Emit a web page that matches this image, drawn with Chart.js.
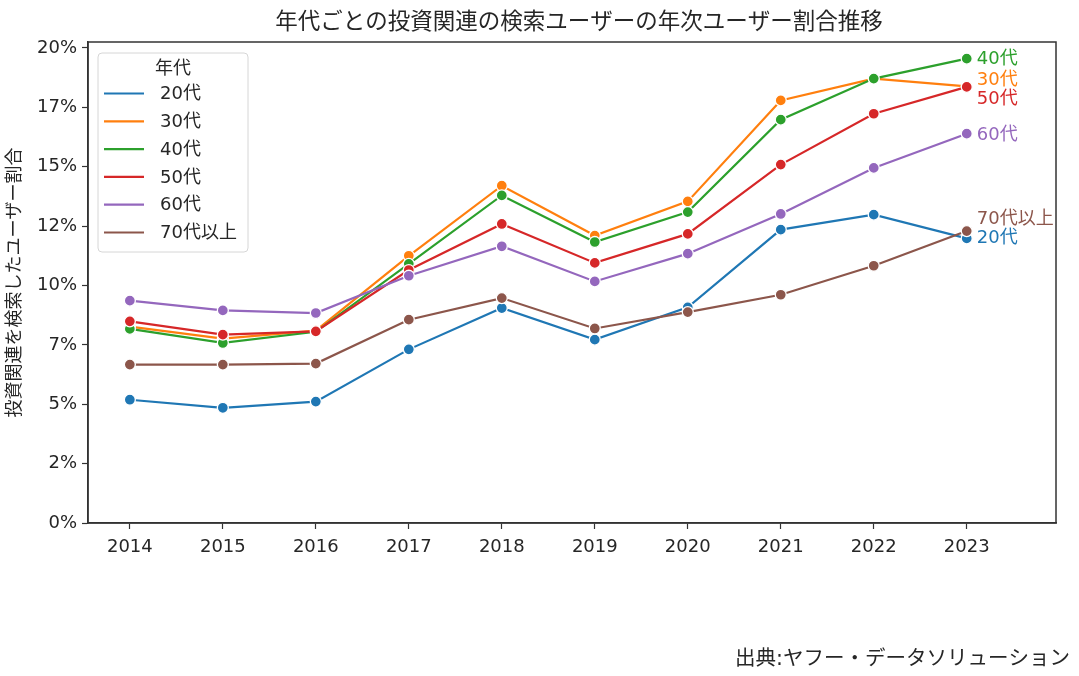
<!DOCTYPE html>
<html lang="ja">
<head>
    <meta charset="UTF-8">
    <title>年代ごとの投資関連の検索ユーザーの年次ユーザー割合推移</title>
    <script src="https://cdn.jsdelivr.net/npm/chart.js"></script>
    <style>
        html, body {
            margin: 0;
            padding: 0;
            background-color: #fff;
        }
        #wrap {
            position: relative;
            width: 1079px;
            height: 676px;
        }
    </style>
</head>
<body>
    <div id="wrap">
        <canvas id="ageChart" width="1079" height="676"></canvas>
    </div>

    <script>
        // data (values in %)
        const years = [2014, 2015, 2016, 2017, 2018, 2019, 2020, 2021, 2022, 2023];
        const ageGroups = ['20代', '30代', '40代', '50代', '60代', '70代以上'];

        const age20 = [5.19, 4.85, 5.11, 7.31, 9.05, 7.72, 9.08, 12.35, 12.98, 11.98];
        const age30 = [8.27, 7.76, 8.10, 11.25, 14.20, 12.10, 13.54, 17.79, 18.71, 18.38];
        const age40 = [8.17, 7.58, 8.05, 10.91, 13.79, 11.83, 13.09, 16.98, 18.71, 19.55];
        const age50 = [8.49, 7.93, 8.07, 10.65, 12.59, 10.95, 12.17, 15.09, 17.23, 18.36];
        const age60 = [9.36, 8.95, 8.84, 10.41, 11.65, 10.17, 11.34, 13.01, 14.95, 16.39];
        const age70 = [6.67, 6.67, 6.71, 8.56, 9.47, 8.19, 8.88, 9.61, 10.83, 12.29];

        const yTicks = [0, 2.5, 5, 7.5, 10, 12.5, 15, 17.5, 20];
        const yTickLabels = ['0%', '2%', '5%', '7%', '10%', '12%', '15%', '17%', '20%'];

        const colors = ['#1f77b4', '#ff7f0e', '#2ca02c', '#d62728', '#9467bd', '#8c564b'];
        // small vertical nudges so the end labels do not overlap
        const labelNudge = [-1, -7.5, 0, 11, 1, -13];

        const FONT = '"DejaVu Sans", "Noto Sans CJK JP", sans-serif';
        const CJK = '"Noto Sans CJK JP", sans-serif';
        const TEXT = '#262626';

        const allSeries = [age20, age30, age40, age50, age60, age70];

        const datasets = allSeries.map((vals, i) => ({
            label: ageGroups[i],
            data: years.map((y, j) => ({ x: y, y: vals[j] })),
            borderColor: colors[i],
            backgroundColor: colors[i],
            borderWidth: 2.2,
            pointRadius: 5.5,
            pointHoverRadius: 5.5,
            pointBorderColor: '#fff',
            pointBorderWidth: 1.3,
            tension: 0,
            order: allSeries.length - 1 - i
        }));

        const decorations = {
            id: 'decorations',
            afterDraw(chart) {
                const ctx = chart.ctx;
                const area = chart.chartArea;
                ctx.save();

                // frame round the plot
                ctx.strokeStyle = '#333';
                ctx.lineWidth = 1.5;
                ctx.strokeRect(area.left, area.top, area.right - area.left, area.bottom - area.top);

                // title
                ctx.fillStyle = TEXT;
                ctx.font = '22.5px ' + CJK;
                ctx.textAlign = 'center';
                ctx.textBaseline = 'middle';
                ctx.fillText('年代ごとの投資関連の検索ユーザーの年次ユーザー割合推移', (area.left + area.right) / 2 + 7, 20);

                // legend
                const lx = 98, ly = 53, lw = 150, lh = 199;
                ctx.fillStyle = 'rgba(255,255,255,0.85)';
                ctx.strokeStyle = '#d6d6d6';
                ctx.lineWidth = 1;
                ctx.beginPath();
                ctx.roundRect(lx, ly, lw, lh, 4);
                ctx.fill();
                ctx.stroke();

                ctx.fillStyle = TEXT;
                ctx.font = '18px ' + CJK;
                ctx.textAlign = 'center';
                ctx.fillText('年代', lx + lw / 2, 67);

                ctx.font = '18px ' + FONT;
                ctx.textAlign = 'left';
                ageGroups.forEach((name, i) => {
                    const y = 93.5 + i * 27.8;
                    ctx.strokeStyle = colors[i];
                    ctx.lineWidth = 2.2;
                    ctx.beginPath();
                    ctx.moveTo(104, y);
                    ctx.lineTo(144, y);
                    ctx.stroke();
                    ctx.fillStyle = TEXT;
                    ctx.fillText(name, 160, y + 1);
                });

                // end-of-line labels
                const xs = chart.scales.x;
                const ys = chart.scales.y;
                ctx.font = '18px ' + FONT;
                ctx.textAlign = 'left';
                allSeries.forEach((vals, i) => {
                    const last = vals.length - 1;
                    const px = xs.getPixelForValue(years[last]) + 10;
                    const py = ys.getPixelForValue(vals[last]) + labelNudge[i];
                    ctx.fillStyle = colors[i];
                    ctx.fillText(ageGroups[i], px, py + 1);
                });

                // source line
                ctx.fillStyle = TEXT;
                ctx.font = '20.5px ' + FONT;
                ctx.textAlign = 'right';
                ctx.fillText('出典:ヤフー・データソリューション', 1070, 660);

                ctx.restore();
            }
        };

        const ctx = document.getElementById('ageChart').getContext('2d');
        const ageChart = new Chart(ctx, {
            type: 'line',
            data: { datasets },
            plugins: [decorations],
            options: {
                responsive: false,
                animation: false,
                devicePixelRatio: 1,
                layout: {
                    padding: { top: 42, right: 23, left: 0, bottom: 113 }
                },
                plugins: {
                    legend: { display: false },
                    tooltip: { enabled: false }
                },
                scales: {
                    x: {
                        type: 'linear',
                        min: 2013.55,
                        max: 2023.96,
                        afterBuildTicks: scale => {
                            scale.ticks = years.map(v => ({ value: v }));
                        },
                        afterFit: scale => {
                            scale.height = 40;
                        },
                        ticks: {
                            color: TEXT,
                            font: { family: FONT, size: 18 },
                            padding: 8,
                            maxRotation: 0,
                            autoSkip: false,
                            callback: v => String(v)
                        },
                        grid: {
                            drawOnChartArea: false,
                            drawTicks: true,
                            tickLength: 6,
                            tickColor: '#333',
                            tickWidth: 1.2
                        },
                        border: { display: true, color: '#333', width: 1.5 }
                    },
                    y: {
                        min: 0,
                        max: 20.25,
                        afterBuildTicks: scale => {
                            scale.ticks = yTicks.map(v => ({ value: v }));
                        },
                        afterFit: scale => {
                            scale.width = 88;
                        },
                        ticks: {
                            color: TEXT,
                            font: { family: FONT, size: 18 },
                            padding: 5,
                            autoSkip: false,
                            callback: (v, i) => yTickLabels[i]
                        },
                        grid: {
                            drawOnChartArea: false,
                            drawTicks: true,
                            tickLength: 6,
                            tickColor: '#333',
                            tickWidth: 1.2
                        },
                        border: { display: true, color: '#333', width: 1.5 },
                        title: {
                            display: true,
                            text: '投資関連を検索したユーザー割合',
                            color: TEXT,
                            font: { family: CJK, size: 18 },
                            padding: { top: 2, bottom: 0 }
                        }
                    }
                }
            }
        });
    </script>
</body>
</html>
